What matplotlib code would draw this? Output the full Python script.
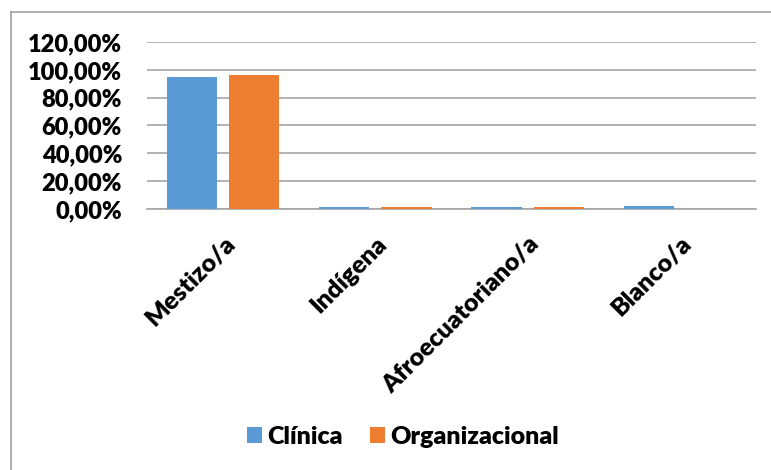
import numpy as np
import matplotlib
matplotlib.use('Agg')
import matplotlib.pyplot as plt
from matplotlib.lines import Line2D
from matplotlib.ticker import FuncFormatter

plt.rcParams['font.family'] = ['Lato', 'DejaVu Sans']

categories = ['Mestizo/a', 'Indígena', 'Afroecuatoriano/a', 'Blanco/a']
clinica = [0.952, 0.012, 0.012, 0.025]
organizacional = [0.964, 0.016, 0.016, 0.0]
yticks = [0.0, 0.2, 0.4, 0.6, 0.8, 1.0, 1.2]

fig = plt.figure(figsize=(7.71, 4.70), dpi=100)
ax = fig.add_axes([147 / 771, 1 - 209 / 470, (756 - 147) / 771, (209 - 42) / 470])

x = np.arange(len(categories))
w = 0.33
ax.bar(x - 0.04 - w / 2, clinica, w, color='#5b9bd5', label='Clínica', zorder=3)
ax.bar(x + 0.04 + w / 2, organizacional, w, color='#ed7d31', label='Organizacional', zorder=3)

ax.set_xlim(-0.5, len(categories) - 0.5)
ax.set_ylim(0, 1.2)
ax.set_yticks(yticks)
ax.yaxis.set_major_formatter(FuncFormatter(lambda v, p: f'{v * 100:.2f}%'.replace('.', ',')))
ax.grid(axis='y', color='#a6a6a6', linewidth=1.2)
ax.set_axisbelow(True)
for s in ['top', 'right', 'left']:
    ax.spines[s].set_visible(False)
ax.spines['bottom'].set_color('#a6a6a6')
ax.spines['bottom'].set_linewidth(1.2)
ax.tick_params(axis='both', length=0)
ax.tick_params(axis='y', pad=18, labelsize=17)
for lab in ax.get_yticklabels():
    lab.set_fontweight('heavy')

ax.set_xticks(x)
ax.set_xticklabels(categories, rotation=45, ha='right', rotation_mode='anchor',
                   fontsize=18, fontweight='heavy')
ax.tick_params(axis='x', pad=17)

fig.legend(loc='center', bbox_to_anchor=(403 / 771, 1 - 437 / 470), ncol=2, frameon=False,
           prop={'weight': 'heavy', 'size': 18}, handlelength=0.6, handleheight=0.6,
           handletextpad=0.2, columnspacing=1.1)

# chart border
fig.add_artist(Line2D([11 / 771, 1], [1 - 12 / 470] * 2, color='#a0a0a0', lw=1.2))
fig.add_artist(Line2D([11 / 771] * 2, [0, 1 - 12 / 470], color='#a0a0a0', lw=1.2))

fig.savefig('out.png', dpi=100)
